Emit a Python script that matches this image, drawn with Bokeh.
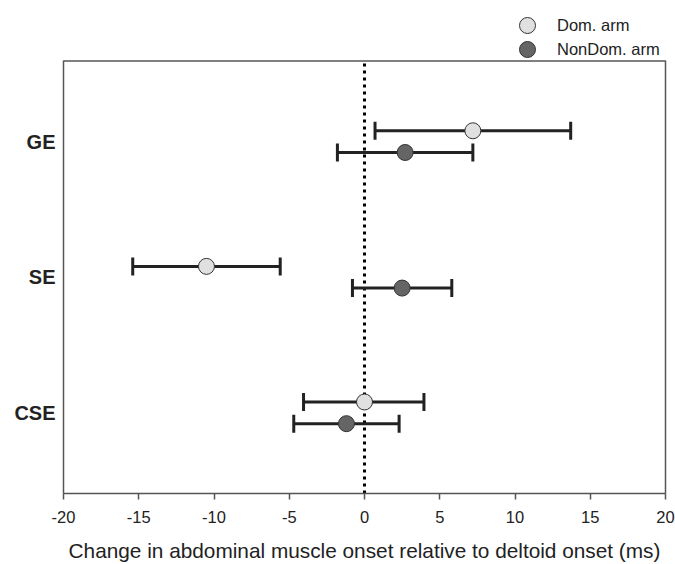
from bokeh.plotting import figure
from bokeh.models import FixedTicker, Span, Legend, LegendItem, LinearAxis
from bokeh.embed import file_html
from bokeh.resources import INLINE

# Data
conditions = ["CSE", "SE", "GE"]
cond_pos = [1, 2, 3]
dom_mean = [0.0, -10.5, 7.2]
dom_low = [-4.05, -15.4, 0.7]
dom_high = [3.95, -5.6, 13.7]
nondom_mean = [-1.2, 2.5, 2.7]
nondom_low = [-4.7, -0.8, -1.8]
nondom_high = [2.3, 5.8, 7.2]
x_ticks = [-20, -15, -10, -5, 0, 5, 10, 15, 20]
x_tick_labels = ["-20", "-15", "-10", "-5", "0", "5", "10", "15", "20"]
offset = 0.08
zero_line = [0]
y_lo, y_hi = 0.405, 3.595   # extent of the boxed plot area
y_top = 4.004               # extra room above the box for the legend

FONT = "Liberation Sans"
AX = "#555555"

p = figure(width=675, height=564, x_range=(-20, 20), y_range=(y_lo, y_top),
           output_backend="svg", toolbar_location=None,
           min_border_left=63, min_border_right=10, min_border_top=5, min_border_bottom=71)

p.xgrid.visible = False
p.ygrid.visible = False
p.outline_line_color = None

# x axis
p.xaxis.ticker = FixedTicker(ticks=x_ticks)
p.xaxis.major_label_overrides = {t: s for t, s in zip(x_ticks, x_tick_labels)}
p.xaxis.minor_tick_line_color = None
p.xaxis.major_tick_in = 0
p.xaxis.major_tick_out = 6
p.xaxis.axis_line_color = AX
p.xaxis.axis_line_width = 1.5
p.xaxis.major_tick_line_color = AX
p.xaxis.major_tick_line_width = 1.5
p.xaxis.major_label_text_font = FONT
p.xaxis.major_label_text_font_size = "16.5px"
p.xaxis.major_label_text_color = "#222222"
p.xaxis.major_label_standoff = 11
p.xaxis.axis_label = "Change in abdominal muscle onset relative to deltoid onset (ms)"
p.xaxis.axis_label_text_font = FONT
p.xaxis.axis_label_text_font_size = "20.8px"
p.xaxis.axis_label_text_font_style = "normal"
p.xaxis.axis_label_text_color = "#222222"
p.xaxis.axis_label_standoff = 13

# y axis
p.yaxis.ticker = FixedTicker(ticks=cond_pos)
p.yaxis.bounds = (y_lo, y_hi)
p.yaxis.major_label_overrides = {pos: c for pos, c in zip(cond_pos, conditions)}
p.yaxis.minor_tick_line_color = None
p.yaxis.major_tick_line_color = None
p.yaxis.major_tick_out = 0
p.yaxis.major_tick_in = 0
p.yaxis.axis_line_color = AX
p.yaxis.axis_line_width = 1.5
p.yaxis.major_label_text_font = FONT
p.yaxis.major_label_text_font_size = "20px"
p.yaxis.major_label_text_font_style = "bold"
p.yaxis.major_label_text_color = "#222222"
p.yaxis.major_label_standoff = 8

# right edge of the box
right_ax = LinearAxis(bounds=(y_lo, y_hi), ticker=FixedTicker(ticks=[]),
                      axis_line_color=AX, axis_line_width=1.5,
                      major_tick_line_color=None, minor_tick_line_color=None,
                      major_tick_out=0, major_tick_in=0,
                      major_label_text_font_size="0px", major_label_standoff=0)
p.add_layout(right_ax, "right")
# top edge of the box
p.add_layout(Span(location=y_hi, dimension="width", line_color=AX, line_width=1.5))

# zero line (dotted), inside the box only
p.segment(x0=zero_line, y0=[y_lo], x1=zero_line, y1=[y_hi],
          line_color="black", line_width=3, line_dash="3 4")

dom_y = [c + offset for c in cond_pos]
nondom_y = [c - offset for c in cond_pos]

bar_color = "#222222"
for lo, hi, ys in ((dom_low, dom_high, dom_y), (nondom_low, nondom_high, nondom_y)):
    p.segment(x0=lo, y0=ys, x1=hi, y1=ys, line_color=bar_color, line_width=3)
    p.scatter(x=lo, y=ys, marker="dash", angle=1.5708, size=18, line_color=bar_color, line_width=3)
    p.scatter(x=hi, y=ys, marker="dash", angle=1.5708, size=18, line_color=bar_color, line_width=3)

r_dom = p.scatter(x=dom_mean, y=dom_y, marker="circle", size=16,
                  fill_color="#e0e0e0", line_color="#333333", line_width=1)
r_non = p.scatter(x=nondom_mean, y=nondom_y, marker="circle", size=16,
                  fill_color="#656565", line_color="#333333", line_width=1)

common = dict(padding=0, margin=0, spacing=0, glyph_width=40, glyph_height=40,
              label_standoff=10, label_text_font=FONT, label_text_font_size="16.5px",
              label_text_color="#222222", background_fill_alpha=0, border_line_color=None)
leg1 = Legend(items=[LegendItem(label="Dom. arm", renderers=[r_dom])],
              location=(444, 448), **common)
leg2 = Legend(items=[LegendItem(label="NonDom. arm", renderers=[r_non])],
              location=(444, 424), **common)
p.add_layout(leg1)
p.add_layout(leg2)

open("out.html", "w").write(file_html(p, INLINE))
